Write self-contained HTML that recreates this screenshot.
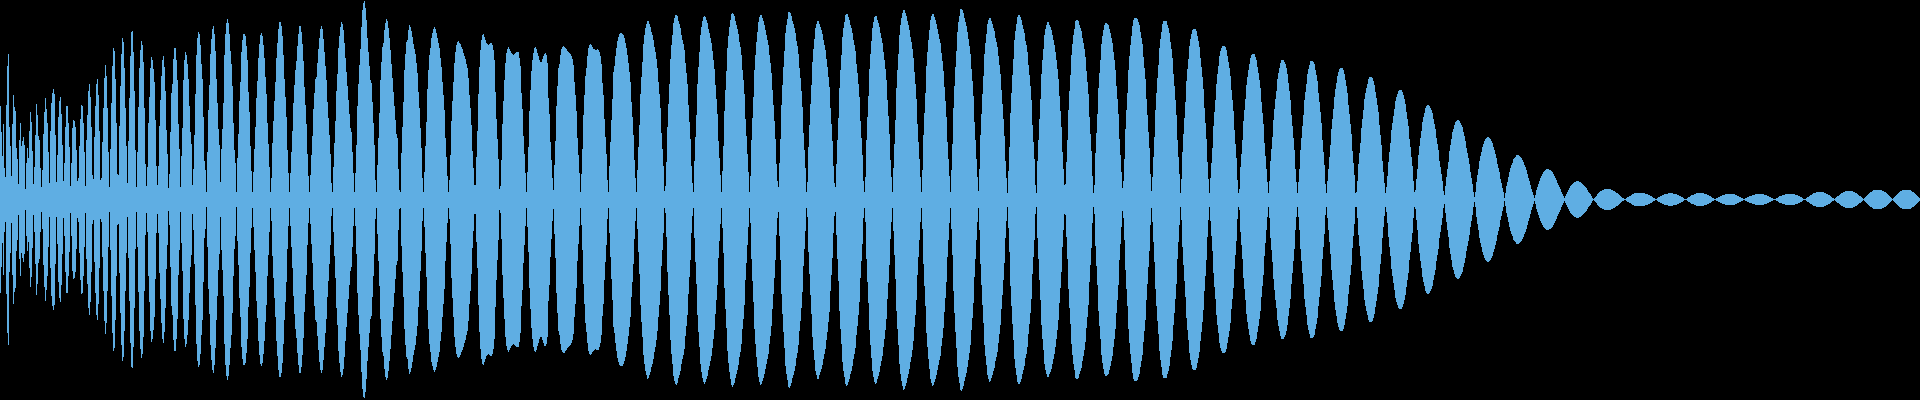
<!DOCTYPE html>
<html><head><meta charset="utf-8"><title>waveform</title>
<style>html,body{margin:0;padding:0;background:#000;width:1920px;height:400px;overflow:hidden;font-family:"Liberation Sans",sans-serif}svg{display:block}</style>
</head><body><svg width="1920" height="400" viewBox="0 0 1920 400" shape-rendering="crispEdges"><rect width="1920" height="400" fill="#000"/><path fill="#5FAEE3" d="M0 106h1v187h-1zM1 132h1v135h-1zM2 156h1v87h-1zM3 124h1v151h-1zM4 168h1v64h-1zM5 177h1v45h-1zM6 105h1v189h-1zM7 66h1v267h-1zM8 54h1v291h-1zM9 127h1v145h-1zM10 146h1v107h-1zM11 176h1v47h-1zM12 124h1v151h-1zM13 95h1v209h-1zM14 107h1v185h-1zM15 111h1v177h-1zM16 148h1v103h-1zM17 159h1v81h-1zM18 184h1v31h-1zM19 140h1v119h-1zM20 123h1v153h-1zM21 146h1v107h-1zM22 141h1v117h-1zM23 137h1v125h-1zM24 145h1v109h-1zM25 189h1v21h-1zM26 163h1v73h-1zM27 148h1v103h-1zM28 158h1v84h-1zM29 131h1v137h-1zM30 112h1v175h-1zM31 122h1v155h-1zM32 151h1v97h-1zM33 184h1v31h-1zM34 167h1v65h-1zM35 135h1v129h-1zM36 104h1v191h-1zM37 115h1v169h-1zM38 136h1v127h-1zM39 140h1v119h-1zM40 168h1v64h-1zM41 187h1v25h-1zM42 170h1v59h-1zM43 134h1v131h-1zM44 112h1v175h-1zM45 98h1v203h-1zM46 109h1v181h-1zM47 123h1v153h-1zM48 152h1v95h-1zM49 183h1v34h-1zM50 131h1v137h-1zM51 103h1v193h-1zM52 93h1v213h-1zM53 89h1v221h-1zM54 94h1v211h-1zM55 135h1v129h-1zM56 182h1v35h-1zM57 155h1v89h-1zM58 117h1v165h-1zM59 101h1v197h-1zM60 97h1v205h-1zM61 114h1v171h-1zM62 145h1v109h-1zM63 181h1v37h-1zM64 163h1v73h-1zM65 127h1v145h-1zM66 106h1v187h-1zM67 106h1v187h-1zM68 123h1v153h-1zM69 147h1v105h-1zM70 186h1v27h-1zM71 163h1v73h-1zM72 128h1v143h-1zM73 120h1v159h-1zM74 121h1v157h-1zM75 127h1v145h-1zM76 150h1v99h-1zM77 181h1v37h-1zM78 178h1v44h-1zM79 146h1v107h-1zM80 119h1v161h-1zM81 105h1v189h-1zM82 106h1v187h-1zM83 123h1v153h-1zM84 152h1v95h-1zM85 186h1v27h-1zM86 140h1v119h-1zM87 115h1v169h-1zM88 91h1v217h-1zM89 84h1v231h-1zM90 97h1v205h-1zM91 127h1v145h-1zM92 175h1v49h-1zM93 179h1v41h-1zM94 137h1v125h-1zM95 106h1v187h-1zM96 84h1v231h-1zM97 79h1v241h-1zM98 95h1v209h-1zM99 131h1v137h-1zM100 180h1v39h-1zM101 178h1v44h-1zM102 142h1v115h-1zM103 108h1v183h-1zM104 78h1v243h-1zM105 65h1v269h-1zM106 76h1v247h-1zM107 108h1v183h-1zM108 152h1v95h-1zM109 187h1v25h-1zM110 149h1v101h-1zM111 103h1v193h-1zM112 66h1v267h-1zM113 48h1v303h-1zM114 51h1v297h-1zM115 79h1v241h-1zM116 123h1v153h-1zM117 174h1v51h-1zM118 175h1v49h-1zM119 126h1v147h-1zM120 86h1v227h-1zM121 54h1v291h-1zM122 38h1v323h-1zM123 42h1v315h-1zM124 68h1v263h-1zM125 108h1v183h-1zM126 146h1v107h-1zM127 183h1v34h-1zM128 141h1v117h-1zM129 98h1v203h-1zM130 56h1v287h-1zM131 32h1v335h-1zM132 31h1v337h-1zM133 52h1v295h-1zM134 91h1v217h-1zM135 150h1v99h-1zM136 187h1v25h-1zM137 152h1v95h-1zM138 107h1v185h-1zM139 68h1v263h-1zM140 50h1v299h-1zM141 41h1v317h-1zM142 45h1v309h-1zM143 62h1v275h-1zM144 108h1v183h-1zM145 164h1v71h-1zM146 186h1v27h-1zM147 167h1v65h-1zM148 123h1v153h-1zM149 97h1v205h-1zM150 68h1v263h-1zM151 57h1v285h-1zM152 60h1v279h-1zM153 69h1v261h-1zM154 82h1v235h-1zM155 120h1v159h-1zM156 166h1v67h-1zM157 185h1v29h-1zM158 166h1v67h-1zM159 126h1v147h-1zM160 100h1v199h-1zM161 76h1v247h-1zM162 60h1v279h-1zM163 56h1v287h-1zM164 67h1v265h-1zM165 91h1v217h-1zM166 130h1v139h-1zM167 154h1v91h-1zM168 188h1v23h-1zM169 174h1v51h-1zM170 132h1v135h-1zM171 93h1v213h-1zM172 84h1v231h-1zM173 59h1v281h-1zM174 48h1v303h-1zM175 48h1v303h-1zM176 60h1v279h-1zM177 80h1v239h-1zM178 124h1v151h-1zM179 149h1v101h-1zM180 187h1v25h-1zM181 156h1v87h-1zM182 128h1v143h-1zM183 80h1v239h-1zM184 60h1v279h-1zM185 52h1v295h-1zM186 55h1v289h-1zM187 64h1v271h-1zM188 79h1v241h-1zM189 106h1v187h-1zM190 132h1v135h-1zM191 144h1v111h-1zM192 185h1v29h-1zM193 169h1v61h-1zM194 135h1v129h-1zM195 94h1v211h-1zM196 55h1v289h-1zM197 38h1v323h-1zM198 32h1v335h-1zM199 34h1v331h-1zM200 45h1v309h-1zM201 64h1v271h-1zM202 79h1v241h-1zM203 117h1v165h-1zM204 161h1v77h-1zM205 170h1v59h-1zM206 192h1v15h-1zM207 152h1v95h-1zM208 110h1v179h-1zM209 85h1v229h-1zM210 54h1v291h-1zM211 39h1v321h-1zM212 29h1v341h-1zM213 26h1v347h-1zM214 34h1v331h-1zM215 51h1v297h-1zM216 79h1v241h-1zM217 103h1v193h-1zM218 129h1v141h-1zM219 145h1v109h-1zM220 182h1v35h-1zM221 149h1v101h-1zM222 129h1v141h-1zM223 103h1v193h-1zM224 55h1v289h-1zM225 34h1v331h-1zM226 23h1v353h-1zM227 19h1v361h-1zM228 23h1v353h-1zM229 34h1v331h-1zM230 51h1v297h-1zM231 64h1v271h-1zM232 86h1v227h-1zM233 123h1v153h-1zM234 150h1v99h-1zM235 163h1v73h-1zM236 192h1v15h-1zM237 158h1v83h-1zM238 134h1v131h-1zM239 101h1v197h-1zM240 82h1v235h-1zM241 52h1v295h-1zM242 40h1v319h-1zM243 34h1v331h-1zM244 34h1v331h-1zM245 36h1v327h-1zM246 46h1v307h-1zM247 60h1v279h-1zM248 92h1v215h-1zM249 112h1v175h-1zM250 146h1v107h-1zM251 171h1v57h-1zM252 192h1v16h-1zM253 172h1v55h-1zM254 149h1v101h-1zM255 127h1v145h-1zM256 98h1v203h-1zM257 81h1v237h-1zM258 58h1v283h-1zM259 44h1v311h-1zM260 35h1v329h-1zM261 33h1v333h-1zM262 36h1v327h-1zM263 45h1v309h-1zM264 58h1v283h-1zM265 77h1v245h-1zM266 94h1v211h-1zM267 123h1v153h-1zM268 144h1v111h-1zM269 167h1v65h-1zM270 192h1v16h-1zM271 178h1v43h-1zM272 143h1v113h-1zM273 121h1v157h-1zM274 101h1v197h-1zM275 82h1v235h-1zM276 58h1v283h-1zM277 43h1v313h-1zM278 29h1v341h-1zM279 22h1v355h-1zM280 22h1v355h-1zM281 26h1v347h-1zM282 36h1v327h-1zM283 55h1v289h-1zM284 79h1v241h-1zM285 97h1v205h-1zM286 117h1v165h-1zM287 150h1v99h-1zM288 173h1v53h-1zM289 192h1v16h-1zM290 173h1v53h-1zM291 152h1v95h-1zM292 131h1v137h-1zM293 103h1v193h-1zM294 85h1v229h-1zM295 70h1v259h-1zM296 61h1v277h-1zM297 46h1v307h-1zM298 34h1v331h-1zM299 26h1v347h-1zM300 26h1v347h-1zM301 32h1v335h-1zM302 44h1v311h-1zM303 61h1v277h-1zM304 87h1v225h-1zM305 105h1v189h-1zM306 124h1v151h-1zM307 154h1v91h-1zM308 176h1v47h-1zM309 192h1v16h-1zM310 175h1v49h-1zM311 155h1v89h-1zM312 136h1v127h-1zM313 109h1v181h-1zM314 93h1v213h-1zM315 79h1v241h-1zM316 77h1v245h-1zM317 63h1v273h-1zM318 49h1v301h-1zM319 38h1v324h-1zM320 29h1v341h-1zM321 26h1v347h-1zM322 29h1v341h-1zM323 39h1v321h-1zM324 52h1v295h-1zM325 66h1v267h-1zM326 80h1v239h-1zM327 102h1v195h-1zM328 118h1v163h-1zM329 135h1v129h-1zM330 154h1v91h-1zM331 183h1v33h-1zM332 192h1v16h-1zM333 167h1v65h-1zM334 143h1v113h-1zM335 121h1v157h-1zM336 91h1v217h-1zM337 74h1v251h-1zM338 48h1v303h-1zM339 36h1v327h-1zM340 27h1v345h-1zM341 22h1v355h-1zM342 24h1v351h-1zM343 30h1v339h-1zM344 43h1v314h-1zM345 58h1v283h-1zM346 72h1v255h-1zM347 86h1v227h-1zM348 100h1v199h-1zM349 114h1v171h-1zM350 128h1v143h-1zM351 132h1v135h-1zM352 152h1v95h-1zM353 173h1v53h-1zM354 192h1v16h-1zM355 173h1v53h-1zM356 145h1v109h-1zM357 106h1v187h-1zM358 84h1v231h-1zM359 65h1v269h-1zM360 49h1v301h-1zM361 27h1v345h-1zM362 10h1v379h-1zM363 3h1v394h-1zM364 1h1v397h-1zM365 8h1v384h-1zM366 20h1v359h-1zM367 38h1v323h-1zM368 52h1v295h-1zM369 66h1v267h-1zM370 80h1v239h-1zM371 83h1v233h-1zM372 102h1v195h-1zM373 123h1v153h-1zM374 145h1v109h-1zM375 180h1v39h-1zM376 192h1v16h-1zM377 165h1v69h-1zM378 138h1v123h-1zM379 113h1v173h-1zM380 80h1v239h-1zM381 62h1v275h-1zM382 47h1v305h-1zM383 43h1v313h-1zM384 30h1v339h-1zM385 23h1v354h-1zM386 19h1v361h-1zM387 21h1v357h-1zM388 28h1v343h-1zM389 38h1v323h-1zM390 50h1v299h-1zM391 64h1v271h-1zM392 78h1v243h-1zM393 92h1v215h-1zM394 106h1v187h-1zM395 120h1v159h-1zM396 134h1v131h-1zM397 138h1v123h-1zM398 169h1v61h-1zM399 190h1v19h-1zM400 192h1v16h-1zM401 153h1v93h-1zM402 127h1v145h-1zM403 102h1v195h-1zM404 70h1v259h-1zM405 54h1v291h-1zM406 42h1v315h-1zM407 40h1v319h-1zM408 30h1v339h-1zM409 25h1v349h-1zM410 27h1v345h-1zM411 31h1v337h-1zM412 37h1v325h-1zM413 44h1v311h-1zM414 49h1v301h-1zM415 54h1v291h-1zM416 63h1v273h-1zM417 73h1v253h-1zM418 92h1v215h-1zM419 108h1v183h-1zM420 128h1v143h-1zM421 148h1v103h-1zM422 178h1v43h-1zM423 192h1v16h-1zM424 172h1v55h-1zM425 146h1v107h-1zM426 122h1v155h-1zM427 89h1v221h-1zM428 70h1v259h-1zM429 55h1v289h-1zM430 48h1v304h-1zM431 38h1v324h-1zM432 33h1v333h-1zM433 29h1v341h-1zM434 27h1v345h-1zM435 29h1v341h-1zM436 33h1v334h-1zM437 38h1v324h-1zM438 43h1v314h-1zM439 48h1v304h-1zM440 58h1v283h-1zM441 67h1v265h-1zM442 82h1v235h-1zM443 95h1v209h-1zM444 110h1v179h-1zM445 138h1v123h-1zM446 157h1v85h-1zM447 176h1v47h-1zM448 192h1v16h-1zM449 180h1v39h-1zM450 155h1v89h-1zM451 121h1v157h-1zM452 101h1v197h-1zM453 82h1v235h-1zM454 63h1v274h-1zM455 52h1v295h-1zM456 45h1v309h-1zM457 42h1v315h-1zM458 41h1v317h-1zM459 43h1v314h-1zM460 44h1v311h-1zM461 47h1v305h-1zM462 49h1v301h-1zM463 53h1v294h-1zM464 56h1v287h-1zM465 59h1v281h-1zM466 64h1v271h-1zM467 68h1v263h-1zM468 78h1v243h-1zM469 95h1v209h-1zM470 108h1v183h-1zM471 125h1v149h-1zM472 151h1v97h-1zM473 168h1v63h-1zM474 185h1v29h-1zM475 185h1v29h-1zM476 157h1v85h-1zM477 131h1v137h-1zM478 94h1v211h-1zM479 67h1v265h-1zM480 50h1v299h-1zM481 40h1v319h-1zM482 35h1v329h-1zM483 34h1v331h-1zM484 37h1v325h-1zM485 40h1v319h-1zM486 43h1v313h-1zM487 44h1v311h-1zM488 45h1v309h-1zM489 44h1v311h-1zM490 43h1v313h-1zM491 43h1v313h-1zM492 45h1v309h-1zM493 50h1v299h-1zM494 60h1v279h-1zM495 92h1v215h-1zM496 119h1v161h-1zM497 139h1v121h-1zM498 159h1v81h-1zM499 189h1v21h-1zM500 186h1v27h-1zM501 160h1v79h-1zM502 124h1v151h-1zM503 101h1v197h-1zM504 80h1v239h-1zM505 63h1v274h-1zM506 53h1v293h-1zM507 49h1v301h-1zM508 47h1v305h-1zM509 49h1v301h-1zM510 51h1v297h-1zM511 53h1v293h-1zM512 54h1v291h-1zM513 55h1v289h-1zM514 54h1v291h-1zM515 53h1v293h-1zM516 52h1v295h-1zM517 52h1v295h-1zM518 52h1v295h-1zM519 58h1v284h-1zM520 66h1v267h-1zM521 93h1v213h-1zM522 109h1v181h-1zM523 136h1v127h-1zM524 154h1v91h-1zM525 173h1v53h-1zM526 192h1v16h-1zM527 172h1v55h-1zM528 147h1v105h-1zM529 111h1v177h-1zM530 90h1v219h-1zM531 71h1v257h-1zM532 60h1v279h-1zM533 53h1v294h-1zM534 48h1v303h-1zM535 47h1v305h-1zM536 49h1v301h-1zM537 53h1v293h-1zM538 56h1v287h-1zM539 60h1v279h-1zM540 62h1v275h-1zM541 62h1v275h-1zM542 59h1v281h-1zM543 56h1v287h-1zM544 54h1v292h-1zM545 53h1v293h-1zM546 55h1v289h-1zM547 63h1v274h-1zM548 98h1v203h-1zM549 114h1v171h-1zM550 142h1v115h-1zM551 160h1v79h-1zM552 178h1v43h-1zM553 190h1v19h-1zM554 165h1v69h-1zM555 141h1v117h-1zM556 106h1v187h-1zM557 86h1v227h-1zM558 68h1v263h-1zM559 64h1v271h-1zM560 55h1v289h-1zM561 49h1v301h-1zM562 47h1v305h-1zM563 46h1v307h-1zM564 47h1v306h-1zM565 48h1v303h-1zM566 49h1v301h-1zM567 51h1v297h-1zM568 52h1v295h-1zM569 53h1v293h-1zM570 54h1v291h-1zM571 56h1v287h-1zM572 59h1v281h-1zM573 65h1v269h-1zM574 82h1v235h-1zM575 95h1v209h-1zM576 111h1v177h-1zM577 138h1v123h-1zM578 155h1v89h-1zM579 173h1v53h-1zM580 192h1v16h-1zM581 174h1v51h-1zM582 149h1v101h-1zM583 115h1v169h-1zM584 95h1v209h-1zM585 76h1v247h-1zM586 68h1v264h-1zM587 56h1v287h-1zM588 48h1v303h-1zM589 45h1v309h-1zM590 44h1v311h-1zM591 45h1v309h-1zM592 47h1v305h-1zM593 49h1v302h-1zM594 49h1v301h-1zM595 50h1v299h-1zM596 50h1v300h-1zM597 49h1v301h-1zM598 50h1v300h-1zM599 52h1v295h-1zM600 56h1v287h-1zM601 64h1v271h-1zM602 83h1v233h-1zM603 95h1v209h-1zM604 119h1v161h-1zM605 137h1v125h-1zM606 154h1v91h-1zM607 180h1v39h-1zM608 192h1v16h-1zM609 166h1v67h-1zM610 142h1v115h-1zM611 120h1v159h-1zM612 99h1v201h-1zM613 72h1v255h-1zM614 66h1v267h-1zM615 56h1v287h-1zM616 48h1v303h-1zM617 41h1v317h-1zM618 37h1v325h-1zM619 34h1v331h-1zM620 33h1v333h-1zM621 33h1v333h-1zM622 34h1v332h-1zM623 35h1v329h-1zM624 38h1v323h-1zM625 43h1v314h-1zM626 48h1v303h-1zM627 55h1v289h-1zM628 63h1v273h-1zM629 72h1v255h-1zM630 82h1v235h-1zM631 102h1v195h-1zM632 117h1v165h-1zM633 135h1v129h-1zM634 160h1v79h-1zM635 178h1v43h-1zM636 192h1v16h-1zM637 170h1v59h-1zM638 147h1v105h-1zM639 125h1v149h-1zM640 94h1v211h-1zM641 77h1v245h-1zM642 62h1v275h-1zM643 44h1v311h-1zM644 35h1v329h-1zM645 28h1v343h-1zM646 24h1v351h-1zM647 21h1v358h-1zM648 21h1v357h-1zM649 24h1v351h-1zM650 27h1v345h-1zM651 32h1v335h-1zM652 35h1v329h-1zM653 40h1v319h-1zM654 47h1v305h-1zM655 52h1v295h-1zM656 59h1v281h-1zM657 68h1v263h-1zM658 82h1v235h-1zM659 94h1v211h-1zM660 108h1v183h-1zM661 133h1v133h-1zM662 149h1v101h-1zM663 166h1v67h-1zM664 191h1v17h-1zM665 186h1v27h-1zM666 162h1v75h-1zM667 127h1v145h-1zM668 104h1v191h-1zM669 84h1v231h-1zM670 59h1v281h-1zM671 45h1v309h-1zM672 35h1v329h-1zM673 23h1v353h-1zM674 18h1v363h-1zM675 15h1v369h-1zM676 15h1v370h-1zM677 16h1v367h-1zM678 21h1v357h-1zM679 24h1v351h-1zM680 28h1v343h-1zM681 35h1v329h-1zM682 40h1v319h-1zM683 44h1v311h-1zM684 50h1v299h-1zM685 63h1v273h-1zM686 73h1v253h-1zM687 84h1v231h-1zM688 105h1v189h-1zM689 122h1v155h-1zM690 139h1v121h-1zM691 166h1v67h-1zM692 183h1v33h-1zM693 192h1v16h-1zM694 161h1v77h-1zM695 137h1v125h-1zM696 115h1v169h-1zM697 84h1v231h-1zM698 67h1v265h-1zM699 52h1v295h-1zM700 35h1v329h-1zM701 27h1v345h-1zM702 21h1v357h-1zM703 17h1v365h-1zM704 16h1v368h-1zM705 17h1v365h-1zM706 20h1v359h-1zM707 23h1v353h-1zM708 29h1v341h-1zM709 33h1v333h-1zM710 38h1v323h-1zM711 43h1v313h-1zM712 51h1v297h-1zM713 60h1v279h-1zM714 69h1v261h-1zM715 85h1v229h-1zM716 99h1v201h-1zM717 114h1v171h-1zM718 141h1v117h-1zM719 158h1v83h-1zM720 175h1v49h-1zM721 192h1v16h-1zM722 171h1v57h-1zM723 146h1v107h-1zM724 111h1v177h-1zM725 90h1v219h-1zM726 71h1v257h-1zM727 48h1v303h-1zM728 36h1v327h-1zM729 27h1v345h-1zM730 20h1v359h-1zM731 14h1v371h-1zM732 13h1v374h-1zM733 14h1v371h-1zM734 16h1v367h-1zM735 21h1v357h-1zM736 25h1v349h-1zM737 29h1v341h-1zM738 34h1v331h-1zM739 42h1v315h-1zM740 47h1v305h-1zM741 55h1v289h-1zM742 70h1v259h-1zM743 80h1v239h-1zM744 94h1v211h-1zM745 119h1v161h-1zM746 136h1v127h-1zM747 154h1v91h-1zM748 172h1v55h-1zM749 192h1v16h-1zM750 176h1v47h-1zM751 140h1v119h-1zM752 118h1v163h-1zM753 97h1v205h-1zM754 70h1v259h-1zM755 55h1v289h-1zM756 42h1v315h-1zM757 32h1v335h-1zM758 22h1v355h-1zM759 17h1v365h-1zM760 15h1v370h-1zM761 15h1v369h-1zM762 18h1v363h-1zM763 21h1v357h-1zM764 25h1v349h-1zM765 30h1v339h-1zM766 35h1v329h-1zM767 40h1v319h-1zM768 45h1v309h-1zM769 55h1v289h-1zM770 63h1v273h-1zM771 73h1v253h-1zM772 90h1v219h-1zM773 105h1v189h-1zM774 121h1v157h-1zM775 139h1v121h-1zM776 164h1v71h-1zM777 181h1v37h-1zM778 187h1v25h-1zM779 163h1v73h-1zM780 139h1v121h-1zM781 105h1v189h-1zM782 85h1v229h-1zM783 67h1v265h-1zM784 51h1v297h-1zM785 33h1v333h-1zM786 25h1v349h-1zM787 19h1v361h-1zM788 12h1v375h-1zM789 12h1v376h-1zM790 13h1v373h-1zM791 16h1v367h-1zM792 21h1v357h-1zM793 24h1v351h-1zM794 28h1v343h-1zM795 33h1v333h-1zM796 41h1v317h-1zM797 46h1v307h-1zM798 54h1v291h-1zM799 68h1v263h-1zM800 78h1v243h-1zM801 91h1v217h-1zM802 107h1v185h-1zM803 133h1v133h-1zM804 150h1v99h-1zM805 168h1v63h-1zM806 192h1v16h-1zM807 182h1v35h-1zM808 147h1v105h-1zM809 125h1v149h-1zM810 104h1v191h-1zM811 85h1v229h-1zM812 62h1v275h-1zM813 49h1v301h-1zM814 39h1v321h-1zM815 28h1v343h-1zM816 24h1v351h-1zM817 21h1v358h-1zM818 21h1v358h-1zM819 24h1v351h-1zM820 27h1v345h-1zM821 30h1v339h-1zM822 34h1v331h-1zM823 40h1v319h-1zM824 45h1v309h-1zM825 50h1v299h-1zM826 59h1v281h-1zM827 67h1v265h-1zM828 77h1v245h-1zM829 87h1v225h-1zM830 108h1v183h-1zM831 124h1v151h-1zM832 141h1v117h-1zM833 166h1v67h-1zM834 183h1v33h-1zM835 187h1v25h-1zM836 164h1v71h-1zM837 140h1v119h-1zM838 118h1v163h-1zM839 88h1v223h-1zM840 70h1v259h-1zM841 55h1v289h-1zM842 37h1v325h-1zM843 28h1v343h-1zM844 22h1v355h-1zM845 15h1v369h-1zM846 14h1v372h-1zM847 14h1v371h-1zM848 17h1v365h-1zM849 20h1v359h-1zM850 25h1v349h-1zM851 28h1v343h-1zM852 33h1v333h-1zM853 40h1v319h-1zM854 45h1v309h-1zM855 51h1v297h-1zM856 64h1v271h-1zM857 73h1v253h-1zM858 84h1v231h-1zM859 97h1v205h-1zM860 121h1v157h-1zM861 138h1v123h-1zM862 155h1v89h-1zM863 181h1v37h-1zM864 192h1v16h-1zM865 177h1v45h-1zM866 140h1v119h-1zM867 117h1v165h-1zM868 96h1v207h-1zM869 69h1v261h-1zM870 54h1v291h-1zM871 41h1v317h-1zM872 28h1v343h-1zM873 22h1v355h-1zM874 17h1v365h-1zM875 16h1v368h-1zM876 16h1v367h-1zM877 20h1v359h-1zM878 23h1v353h-1zM879 27h1v345h-1zM880 33h1v333h-1zM881 38h1v323h-1zM882 43h1v313h-1zM883 52h1v295h-1zM884 60h1v279h-1zM885 69h1v261h-1zM886 80h1v239h-1zM887 100h1v199h-1zM888 116h1v167h-1zM889 134h1v131h-1zM890 160h1v79h-1zM891 177h1v45h-1zM892 192h1v16h-1zM893 168h1v63h-1zM894 144h1v111h-1zM895 120h1v159h-1zM896 88h1v223h-1zM897 70h1v259h-1zM898 54h1v291h-1zM899 35h1v329h-1zM900 25h1v349h-1zM901 18h1v363h-1zM902 13h1v373h-1zM903 10h1v380h-1zM904 10h1v379h-1zM905 13h1v373h-1zM906 16h1v367h-1zM907 21h1v357h-1zM908 25h1v349h-1zM909 30h1v339h-1zM910 37h1v325h-1zM911 42h1v315h-1zM912 49h1v301h-1zM913 58h1v283h-1zM914 72h1v255h-1zM915 84h1v231h-1zM916 99h1v201h-1zM917 124h1v151h-1zM918 142h1v115h-1zM919 159h1v81h-1zM920 177h1v45h-1zM921 192h1v16h-1zM922 170h1v59h-1zM923 135h1v129h-1zM924 113h1v173h-1zM925 93h1v213h-1zM926 66h1v267h-1zM927 52h1v295h-1zM928 40h1v319h-1zM929 30h1v339h-1zM930 20h1v359h-1zM931 16h1v367h-1zM932 14h1v372h-1zM933 14h1v371h-1zM934 17h1v365h-1zM935 20h1v359h-1zM936 24h1v351h-1zM937 29h1v341h-1zM938 34h1v331h-1zM939 39h1v321h-1zM940 43h1v313h-1zM941 53h1v293h-1zM942 61h1v277h-1zM943 71h1v257h-1zM944 87h1v225h-1zM945 101h1v197h-1zM946 117h1v165h-1zM947 142h1v115h-1zM948 159h1v81h-1zM949 176h1v47h-1zM950 192h1v16h-1zM951 170h1v59h-1zM952 144h1v111h-1zM953 108h1v183h-1zM954 86h1v227h-1zM955 67h1v265h-1zM956 51h1v297h-1zM957 32h1v335h-1zM958 22h1v355h-1zM959 16h1v367h-1zM960 9h1v381h-1zM961 9h1v382h-1zM962 10h1v379h-1zM963 13h1v373h-1zM964 18h1v363h-1zM965 22h1v355h-1zM966 26h1v347h-1zM967 32h1v335h-1zM968 39h1v321h-1zM969 46h1v307h-1zM970 54h1v291h-1zM971 69h1v261h-1zM972 81h1v237h-1zM973 96h1v207h-1zM974 122h1v155h-1zM975 140h1v119h-1zM976 159h1v81h-1zM977 177h1v45h-1zM978 191h1v17h-1zM979 169h1v61h-1zM980 135h1v129h-1zM981 114h1v171h-1zM982 94h1v211h-1zM983 76h1v247h-1zM984 54h1v291h-1zM985 43h1v313h-1zM986 34h1v331h-1zM987 24h1v351h-1zM988 20h1v359h-1zM989 18h1v364h-1zM990 18h1v363h-1zM991 21h1v357h-1zM992 24h1v351h-1zM993 28h1v343h-1zM994 31h1v337h-1zM995 38h1v323h-1zM996 42h1v315h-1zM997 47h1v305h-1zM998 56h1v287h-1zM999 65h1v269h-1zM1000 74h1v251h-1zM1001 90h1v219h-1zM1002 104h1v191h-1zM1003 119h1v161h-1zM1004 136h1v127h-1zM1005 161h1v77h-1zM1006 178h1v43h-1zM1007 193h1v14h-1zM1008 171h1v57h-1zM1009 147h1v105h-1zM1010 113h1v173h-1zM1011 93h1v213h-1zM1012 75h1v249h-1zM1013 59h1v281h-1zM1014 40h1v319h-1zM1015 31h1v337h-1zM1016 24h1v351h-1zM1017 17h1v365h-1zM1018 15h1v369h-1zM1019 15h1v369h-1zM1020 17h1v365h-1zM1021 20h1v359h-1zM1022 25h1v349h-1zM1023 29h1v341h-1zM1024 33h1v333h-1zM1025 41h1v317h-1zM1026 45h1v309h-1zM1027 52h1v295h-1zM1028 65h1v269h-1zM1029 75h1v249h-1zM1030 86h1v227h-1zM1031 100h1v199h-1zM1032 125h1v149h-1zM1033 142h1v115h-1zM1034 159h1v81h-1zM1035 185h1v29h-1zM1036 193h1v14h-1zM1037 161h1v77h-1zM1038 140h1v119h-1zM1039 119h1v161h-1zM1040 99h1v201h-1zM1041 74h1v251h-1zM1042 60h1v279h-1zM1043 49h1v301h-1zM1044 35h1v329h-1zM1045 29h1v341h-1zM1046 25h1v349h-1zM1047 22h1v355h-1zM1048 22h1v355h-1zM1049 25h1v349h-1zM1050 27h1v345h-1zM1051 30h1v339h-1zM1052 35h1v329h-1zM1053 40h1v319h-1zM1054 45h1v309h-1zM1055 52h1v295h-1zM1056 60h1v279h-1zM1057 69h1v261h-1zM1058 79h1v241h-1zM1059 96h1v207h-1zM1060 111h1v177h-1zM1061 127h1v145h-1zM1062 152h1v95h-1zM1063 169h1v61h-1zM1064 185h1v29h-1zM1065 184h1v31h-1zM1066 162h1v75h-1zM1067 140h1v119h-1zM1068 110h1v179h-1zM1069 91h1v217h-1zM1070 75h1v249h-1zM1071 55h1v289h-1zM1072 44h1v311h-1zM1073 35h1v329h-1zM1074 29h1v341h-1zM1075 21h1v357h-1zM1076 20h1v359h-1zM1077 20h1v359h-1zM1078 21h1v357h-1zM1079 25h1v349h-1zM1080 28h1v343h-1zM1081 31h1v337h-1zM1082 38h1v323h-1zM1083 43h1v313h-1zM1084 49h1v301h-1zM1085 57h1v285h-1zM1086 71h1v257h-1zM1087 82h1v235h-1zM1088 94h1v211h-1zM1089 117h1v165h-1zM1090 134h1v131h-1zM1091 151h1v97h-1zM1092 176h1v47h-1zM1093 193h1v14h-1zM1094 185h1v29h-1zM1095 153h1v93h-1zM1096 133h1v133h-1zM1097 114h1v171h-1zM1098 88h1v223h-1zM1099 73h1v253h-1zM1100 60h1v279h-1zM1101 44h1v311h-1zM1102 36h1v327h-1zM1103 30h1v339h-1zM1104 25h1v349h-1zM1105 23h1v353h-1zM1106 23h1v353h-1zM1107 24h1v351h-1zM1108 25h1v349h-1zM1109 29h1v341h-1zM1110 33h1v333h-1zM1111 38h1v323h-1zM1112 43h1v313h-1zM1113 52h1v295h-1zM1114 60h1v279h-1zM1115 70h1v259h-1zM1116 86h1v227h-1zM1117 99h1v201h-1zM1118 114h1v171h-1zM1119 139h1v121h-1zM1120 155h1v89h-1zM1121 172h1v55h-1zM1122 188h1v23h-1zM1123 181h1v37h-1zM1124 159h1v81h-1zM1125 129h1v141h-1zM1126 110h1v179h-1zM1127 93h1v213h-1zM1128 70h1v259h-1zM1129 56h1v287h-1zM1130 45h1v309h-1zM1131 36h1v327h-1zM1132 26h1v347h-1zM1133 20h1v359h-1zM1134 18h1v363h-1zM1135 18h1v363h-1zM1136 18h1v363h-1zM1137 19h1v361h-1zM1138 22h1v355h-1zM1139 25h1v349h-1zM1140 32h1v335h-1zM1141 38h1v323h-1zM1142 44h1v311h-1zM1143 57h1v285h-1zM1144 68h1v263h-1zM1145 79h1v241h-1zM1146 99h1v201h-1zM1147 115h1v169h-1zM1148 132h1v135h-1zM1149 148h1v103h-1zM1150 174h1v51h-1zM1151 191h1v17h-1zM1152 177h1v45h-1zM1153 157h1v85h-1zM1154 137h1v125h-1zM1155 110h1v179h-1zM1156 93h1v213h-1zM1157 78h1v243h-1zM1158 65h1v269h-1zM1159 48h1v303h-1zM1160 39h1v321h-1zM1161 32h1v335h-1zM1162 24h1v351h-1zM1163 21h1v357h-1zM1164 21h1v357h-1zM1165 21h1v357h-1zM1166 21h1v357h-1zM1167 25h1v349h-1zM1168 28h1v343h-1zM1169 33h1v333h-1zM1170 42h1v315h-1zM1171 49h1v301h-1zM1172 58h1v283h-1zM1173 74h1v251h-1zM1174 86h1v227h-1zM1175 100h1v199h-1zM1176 115h1v169h-1zM1177 140h1v119h-1zM1178 157h1v85h-1zM1179 174h1v51h-1zM1180 193h1v14h-1zM1181 179h1v41h-1zM1182 152h1v95h-1zM1183 134h1v131h-1zM1184 118h1v163h-1zM1185 102h1v195h-1zM1186 81h1v237h-1zM1187 69h1v261h-1zM1188 59h1v281h-1zM1189 46h1v307h-1zM1190 39h1v321h-1zM1191 34h1v331h-1zM1192 30h1v339h-1zM1193 29h1v341h-1zM1194 29h1v341h-1zM1195 29h1v341h-1zM1196 31h1v337h-1zM1197 36h1v327h-1zM1198 41h1v317h-1zM1199 47h1v305h-1zM1200 58h1v283h-1zM1201 67h1v265h-1zM1202 77h1v245h-1zM1203 89h1v221h-1zM1204 108h1v183h-1zM1205 123h1v153h-1zM1206 139h1v121h-1zM1207 162h1v75h-1zM1208 179h1v41h-1zM1209 193h1v14h-1zM1210 178h1v43h-1zM1211 163h1v73h-1zM1212 148h1v103h-1zM1213 126h1v147h-1zM1214 112h1v175h-1zM1215 100h1v199h-1zM1216 84h1v231h-1zM1217 74h1v251h-1zM1218 66h1v267h-1zM1219 56h1v287h-1zM1220 51h1v297h-1zM1221 48h1v303h-1zM1222 46h1v307h-1zM1223 46h1v307h-1zM1224 46h1v307h-1zM1225 47h1v305h-1zM1226 50h1v299h-1zM1227 56h1v287h-1zM1228 62h1v275h-1zM1229 68h1v263h-1zM1230 76h1v247h-1zM1231 90h1v219h-1zM1232 100h1v199h-1zM1233 111h1v177h-1zM1234 130h1v139h-1zM1235 144h1v111h-1zM1236 158h1v83h-1zM1237 180h1v39h-1zM1238 193h1v14h-1zM1239 189h1v21h-1zM1240 167h1v65h-1zM1241 154h1v91h-1zM1242 140h1v119h-1zM1243 121h1v157h-1zM1244 110h1v179h-1zM1245 99h1v201h-1zM1246 85h1v229h-1zM1247 77h1v245h-1zM1248 70h1v259h-1zM1249 64h1v271h-1zM1250 58h1v283h-1zM1251 55h1v289h-1zM1252 54h1v291h-1zM1253 54h1v291h-1zM1254 54h1v291h-1zM1255 57h1v285h-1zM1256 60h1v279h-1zM1257 67h1v265h-1zM1258 73h1v253h-1zM1259 80h1v239h-1zM1260 88h1v223h-1zM1261 102h1v195h-1zM1262 113h1v173h-1zM1263 124h1v151h-1zM1264 143h1v113h-1zM1265 156h1v87h-1zM1266 169h1v61h-1zM1267 182h1v35h-1zM1268 193h1v14h-1zM1269 181h1v37h-1zM1270 161h1v77h-1zM1271 149h1v101h-1zM1272 137h1v125h-1zM1273 120h1v159h-1zM1274 109h1v181h-1zM1275 99h1v201h-1zM1276 91h1v217h-1zM1277 79h1v241h-1zM1278 73h1v253h-1zM1279 68h1v263h-1zM1280 63h1v273h-1zM1281 60h1v279h-1zM1282 60h1v279h-1zM1283 60h1v279h-1zM1284 62h1v275h-1zM1285 64h1v271h-1zM1286 68h1v263h-1zM1287 74h1v251h-1zM1288 83h1v233h-1zM1289 91h1v217h-1zM1290 100h1v199h-1zM1291 115h1v169h-1zM1292 126h1v147h-1zM1293 138h1v123h-1zM1294 150h1v99h-1zM1295 169h1v61h-1zM1296 182h1v35h-1zM1297 193h1v14h-1zM1298 182h1v35h-1zM1299 169h1v61h-1zM1300 150h1v99h-1zM1301 138h1v123h-1zM1302 126h1v147h-1zM1303 115h1v169h-1zM1304 100h1v199h-1zM1305 92h1v215h-1zM1306 84h1v231h-1zM1307 74h1v251h-1zM1308 69h1v261h-1zM1309 65h1v269h-1zM1310 61h1v277h-1zM1311 61h1v277h-1zM1312 61h1v277h-1zM1313 62h1v275h-1zM1314 64h1v271h-1zM1315 70h1v259h-1zM1316 75h1v249h-1zM1317 81h1v237h-1zM1318 93h1v213h-1zM1319 102h1v195h-1zM1320 112h1v175h-1zM1321 123h1v153h-1zM1322 140h1v119h-1zM1323 152h1v95h-1zM1324 165h1v69h-1zM1325 184h1v31h-1zM1326 193h1v14h-1zM1327 181h1v37h-1zM1328 169h1v61h-1zM1329 157h1v85h-1zM1330 145h1v109h-1zM1331 129h1v141h-1zM1332 119h1v161h-1zM1333 109h1v181h-1zM1334 97h1v205h-1zM1335 89h1v221h-1zM1336 83h1v233h-1zM1337 76h1v247h-1zM1338 72h1v255h-1zM1339 69h1v261h-1zM1340 68h1v263h-1zM1341 68h1v263h-1zM1342 68h1v263h-1zM1343 70h1v259h-1zM1344 74h1v251h-1zM1345 80h1v239h-1zM1346 86h1v227h-1zM1347 93h1v213h-1zM1348 105h1v189h-1zM1349 114h1v171h-1zM1350 124h1v151h-1zM1351 134h1v131h-1zM1352 151h1v97h-1zM1353 163h1v73h-1zM1354 175h1v49h-1zM1355 193h1v14h-1zM1356 192h1v15h-1zM1357 181h1v37h-1zM1358 164h1v71h-1zM1359 153h1v93h-1zM1360 143h1v113h-1zM1361 128h1v143h-1zM1362 119h1v161h-1zM1363 110h1v179h-1zM1364 99h1v201h-1zM1365 93h1v213h-1zM1366 88h1v223h-1zM1367 84h1v231h-1zM1368 79h1v241h-1zM1369 77h1v245h-1zM1370 77h1v245h-1zM1371 77h1v245h-1zM1372 78h1v243h-1zM1373 81h1v237h-1zM1374 85h1v229h-1zM1375 92h1v215h-1zM1376 98h1v203h-1zM1377 105h1v189h-1zM1378 112h1v175h-1zM1379 125h1v149h-1zM1380 135h1v129h-1zM1381 145h1v109h-1zM1382 161h1v77h-1zM1383 172h1v55h-1zM1384 183h1v33h-1zM1385 193h1v14h-1zM1386 187h1v25h-1zM1387 176h1v47h-1zM1388 162h1v75h-1zM1389 152h1v95h-1zM1390 143h1v113h-1zM1391 130h1v139h-1zM1392 123h1v153h-1zM1393 116h1v167h-1zM1394 109h1v181h-1zM1395 101h1v197h-1zM1396 97h1v205h-1zM1397 94h1v211h-1zM1398 91h1v217h-1zM1399 90h1v219h-1zM1400 90h1v219h-1zM1401 90h1v219h-1zM1402 92h1v215h-1zM1403 95h1v209h-1zM1404 99h1v201h-1zM1405 104h1v191h-1zM1406 112h1v175h-1zM1407 119h1v161h-1zM1408 126h1v147h-1zM1409 139h1v121h-1zM1410 147h1v105h-1zM1411 157h1v85h-1zM1412 166h1v67h-1zM1413 181h1v37h-1zM1414 192h1v15h-1zM1415 190h1v19h-1zM1416 179h1v41h-1zM1417 169h1v61h-1zM1418 155h1v89h-1zM1419 146h1v107h-1zM1420 138h1v123h-1zM1421 131h1v137h-1zM1422 122h1v155h-1zM1423 117h1v165h-1zM1424 113h1v173h-1zM1425 108h1v183h-1zM1426 106h1v187h-1zM1427 105h1v189h-1zM1428 105h1v189h-1zM1429 106h1v187h-1zM1430 108h1v183h-1zM1431 110h1v179h-1zM1432 113h1v173h-1zM1433 119h1v161h-1zM1434 124h1v151h-1zM1435 129h1v141h-1zM1436 138h1v123h-1zM1437 144h1v111h-1zM1438 150h1v99h-1zM1439 161h1v77h-1zM1440 167h1v65h-1zM1441 174h1v51h-1zM1442 181h1v37h-1zM1443 191h1v17h-1zM1444 195h1v9h-1zM1445 186h1v27h-1zM1446 177h1v45h-1zM1447 169h1v61h-1zM1448 162h1v75h-1zM1449 151h1v97h-1zM1450 145h1v109h-1zM1451 139h1v121h-1zM1452 132h1v135h-1zM1453 129h1v141h-1zM1454 125h1v149h-1zM1455 122h1v155h-1zM1456 121h1v157h-1zM1457 120h1v159h-1zM1458 120h1v159h-1zM1459 121h1v157h-1zM1460 123h1v153h-1zM1461 125h1v149h-1zM1462 127h1v145h-1zM1463 132h1v135h-1zM1464 136h1v127h-1zM1465 141h1v117h-1zM1466 148h1v103h-1zM1467 153h1v93h-1zM1468 158h1v83h-1zM1469 164h1v71h-1zM1470 172h1v55h-1zM1471 178h1v43h-1zM1472 184h1v31h-1zM1473 192h1v15h-1zM1474 197h1v5h-1zM1475 192h1v15h-1zM1476 182h1v35h-1zM1477 175h1v49h-1zM1478 169h1v61h-1zM1479 161h1v77h-1zM1480 156h1v87h-1zM1481 152h1v95h-1zM1482 147h1v105h-1zM1483 144h1v111h-1zM1484 141h1v117h-1zM1485 139h1v121h-1zM1486 138h1v123h-1zM1487 137h1v125h-1zM1488 137h1v125h-1zM1489 138h1v123h-1zM1490 139h1v121h-1zM1491 141h1v117h-1zM1492 143h1v113h-1zM1493 147h1v105h-1zM1494 150h1v99h-1zM1495 154h1v91h-1zM1496 158h1v83h-1zM1497 164h1v71h-1zM1498 168h1v63h-1zM1499 172h1v55h-1zM1500 179h1v41h-1zM1501 183h1v33h-1zM1502 188h1v23h-1zM1503 192h1v15h-1zM1504 198h1v3h-1zM1505 193h1v13h-1zM1506 186h1v27h-1zM1507 182h1v35h-1zM1508 177h1v45h-1zM1509 172h1v55h-1zM1510 168h1v63h-1zM1511 165h1v69h-1zM1512 163h1v73h-1zM1513 159h1v81h-1zM1514 158h1v83h-1zM1515 157h1v85h-1zM1516 155h1v89h-1zM1517 155h1v89h-1zM1518 155h1v89h-1zM1519 156h1v87h-1zM1520 157h1v85h-1zM1521 158h1v83h-1zM1522 160h1v79h-1zM1523 162h1v75h-1zM1524 165h1v69h-1zM1525 167h1v65h-1zM1526 170h1v59h-1zM1527 174h1v51h-1zM1528 178h1v43h-1zM1529 181h1v37h-1zM1530 185h1v29h-1zM1531 189h1v21h-1zM1532 192h1v15h-1zM1533 195h1v9h-1zM1534 198h1v3h-1zM1535 195h1v9h-1zM1536 190h1v19h-1zM1537 187h1v25h-1zM1538 184h1v31h-1zM1539 181h1v37h-1zM1540 178h1v43h-1zM1541 176h1v47h-1zM1542 174h1v51h-1zM1543 172h1v55h-1zM1544 171h1v57h-1zM1545 170h1v59h-1zM1546 169h1v61h-1zM1547 169h1v61h-1zM1548 169h1v61h-1zM1549 170h1v59h-1zM1550 170h1v59h-1zM1551 171h1v57h-1zM1552 172h1v55h-1zM1553 174h1v51h-1zM1554 176h1v47h-1zM1555 178h1v43h-1zM1556 180h1v39h-1zM1557 183h1v33h-1zM1558 185h1v29h-1zM1559 187h1v25h-1zM1560 189h1v21h-1zM1561 192h1v15h-1zM1562 194h1v11h-1zM1563 196h1v7h-1zM1564 198h1v3h-1zM1565 196h1v7h-1zM1566 194h1v11h-1zM1567 192h1v15h-1zM1568 190h1v19h-1zM1569 188h1v23h-1zM1570 186h1v27h-1zM1571 185h1v29h-1zM1572 184h1v31h-1zM1573 183h1v33h-1zM1574 182h1v35h-1zM1575 182h1v35h-1zM1576 181h1v37h-1zM1577 181h1v37h-1zM1578 181h1v37h-1zM1579 182h1v35h-1zM1580 182h1v35h-1zM1581 183h1v33h-1zM1582 184h1v31h-1zM1583 185h1v29h-1zM1584 186h1v27h-1zM1585 187h1v25h-1zM1586 188h1v23h-1zM1587 190h1v19h-1zM1588 192h1v15h-1zM1589 193h1v13h-1zM1590 194h1v11h-1zM1591 196h1v7h-1zM1592 198h1v3h-1zM1593 199h1v1h-1zM1594 198h1v3h-1zM1595 197h1v5h-1zM1596 196h1v7h-1zM1597 194h1v11h-1zM1598 193h1v13h-1zM1599 192h1v15h-1zM1600 191h1v17h-1zM1601 191h1v17h-1zM1602 190h1v19h-1zM1603 190h1v19h-1zM1604 189h1v21h-1zM1605 189h1v21h-1zM1606 189h1v21h-1zM1607 189h1v21h-1zM1608 189h1v21h-1zM1609 189h1v21h-1zM1610 189h1v21h-1zM1611 190h1v19h-1zM1612 190h1v19h-1zM1613 191h1v17h-1zM1614 191h1v17h-1zM1615 192h1v15h-1zM1616 193h1v13h-1zM1617 193h1v13h-1zM1618 194h1v11h-1zM1619 195h1v9h-1zM1620 196h1v7h-1zM1621 197h1v5h-1zM1622 198h1v3h-1zM1623 198h1v3h-1zM1624 199h1v1h-1zM1625 199h1v1h-1zM1626 198h1v3h-1zM1627 197h1v5h-1zM1628 197h1v5h-1zM1629 196h1v7h-1zM1630 196h1v7h-1zM1631 195h1v9h-1zM1632 194h1v11h-1zM1633 194h1v11h-1zM1634 193h1v13h-1zM1635 193h1v13h-1zM1636 193h1v13h-1zM1637 193h1v13h-1zM1638 193h1v13h-1zM1639 193h1v13h-1zM1640 193h1v13h-1zM1641 193h1v13h-1zM1642 193h1v13h-1zM1643 193h1v13h-1zM1644 193h1v13h-1zM1645 194h1v11h-1zM1646 194h1v11h-1zM1647 194h1v11h-1zM1648 195h1v9h-1zM1649 195h1v9h-1zM1650 196h1v7h-1zM1651 196h1v7h-1zM1652 197h1v5h-1zM1653 198h1v3h-1zM1654 198h1v3h-1zM1655 199h1v1h-1zM1656 199h1v1h-1zM1657 198h1v3h-1zM1658 197h1v5h-1zM1659 197h1v5h-1zM1660 196h1v7h-1zM1661 196h1v7h-1zM1662 195h1v9h-1zM1663 195h1v9h-1zM1664 194h1v11h-1zM1665 194h1v11h-1zM1666 194h1v11h-1zM1667 194h1v11h-1zM1668 193h1v13h-1zM1669 193h1v13h-1zM1670 193h1v13h-1zM1671 193h1v13h-1zM1672 193h1v13h-1zM1673 194h1v11h-1zM1674 194h1v11h-1zM1675 194h1v11h-1zM1676 194h1v11h-1zM1677 195h1v9h-1zM1678 195h1v9h-1zM1679 196h1v7h-1zM1680 196h1v7h-1zM1681 197h1v5h-1zM1682 197h1v5h-1zM1683 198h1v3h-1zM1684 199h1v1h-1zM1685 199h1v1h-1zM1686 199h1v1h-1zM1687 198h1v3h-1zM1688 197h1v5h-1zM1689 197h1v5h-1zM1690 196h1v7h-1zM1691 195h1v9h-1zM1692 195h1v9h-1zM1693 195h1v9h-1zM1694 194h1v11h-1zM1695 194h1v11h-1zM1696 193h1v13h-1zM1697 193h1v13h-1zM1698 193h1v13h-1zM1699 193h1v13h-1zM1700 193h1v13h-1zM1701 193h1v13h-1zM1702 193h1v13h-1zM1703 193h1v13h-1zM1704 194h1v11h-1zM1705 194h1v11h-1zM1706 194h1v11h-1zM1707 195h1v9h-1zM1708 195h1v9h-1zM1709 196h1v7h-1zM1710 196h1v7h-1zM1711 197h1v5h-1zM1712 198h1v3h-1zM1713 198h1v3h-1zM1714 199h1v1h-1zM1715 199h1v1h-1zM1716 198h1v3h-1zM1717 198h1v3h-1zM1718 197h1v5h-1zM1719 197h1v5h-1zM1720 196h1v7h-1zM1721 196h1v7h-1zM1722 195h1v9h-1zM1723 195h1v9h-1zM1724 195h1v9h-1zM1725 194h1v11h-1zM1726 194h1v11h-1zM1727 194h1v11h-1zM1728 194h1v11h-1zM1729 194h1v11h-1zM1730 194h1v11h-1zM1731 194h1v11h-1zM1732 194h1v11h-1zM1733 194h1v11h-1zM1734 194h1v11h-1zM1735 195h1v9h-1zM1736 195h1v9h-1zM1737 196h1v7h-1zM1738 196h1v7h-1zM1739 197h1v5h-1zM1740 197h1v5h-1zM1741 198h1v3h-1zM1742 198h1v3h-1zM1743 199h1v1h-1zM1744 199h1v1h-1zM1745 198h1v3h-1zM1746 198h1v3h-1zM1747 197h1v5h-1zM1748 197h1v5h-1zM1749 196h1v7h-1zM1750 196h1v7h-1zM1751 196h1v7h-1zM1752 195h1v9h-1zM1753 195h1v9h-1zM1754 195h1v9h-1zM1755 194h1v11h-1zM1756 194h1v11h-1zM1757 194h1v11h-1zM1758 194h1v11h-1zM1759 194h1v11h-1zM1760 194h1v11h-1zM1761 194h1v11h-1zM1762 194h1v11h-1zM1763 194h1v11h-1zM1764 195h1v9h-1zM1765 195h1v9h-1zM1766 195h1v9h-1zM1767 196h1v7h-1zM1768 196h1v7h-1zM1769 197h1v5h-1zM1770 197h1v5h-1zM1771 198h1v3h-1zM1772 198h1v3h-1zM1773 199h1v1h-1zM1774 199h1v1h-1zM1775 199h1v1h-1zM1776 198h1v3h-1zM1777 198h1v3h-1zM1778 197h1v5h-1zM1779 196h1v7h-1zM1780 196h1v7h-1zM1781 196h1v7h-1zM1782 195h1v9h-1zM1783 195h1v9h-1zM1784 195h1v9h-1zM1785 194h1v11h-1zM1786 194h1v11h-1zM1787 194h1v11h-1zM1788 194h1v11h-1zM1789 194h1v11h-1zM1790 194h1v11h-1zM1791 194h1v11h-1zM1792 194h1v11h-1zM1793 194h1v11h-1zM1794 194h1v11h-1zM1795 195h1v9h-1zM1796 195h1v9h-1zM1797 195h1v9h-1zM1798 196h1v7h-1zM1799 196h1v7h-1zM1800 197h1v5h-1zM1801 197h1v5h-1zM1802 198h1v3h-1zM1803 199h1v1h-1zM1804 199h1v1h-1zM1805 199h1v1h-1zM1806 198h1v3h-1zM1807 197h1v5h-1zM1808 197h1v5h-1zM1809 196h1v7h-1zM1810 195h1v9h-1zM1811 195h1v9h-1zM1812 194h1v11h-1zM1813 193h1v13h-1zM1814 193h1v13h-1zM1815 193h1v13h-1zM1816 192h1v15h-1zM1817 192h1v15h-1zM1818 192h1v15h-1zM1819 192h1v15h-1zM1820 192h1v15h-1zM1821 192h1v15h-1zM1822 192h1v15h-1zM1823 192h1v15h-1zM1824 193h1v13h-1zM1825 193h1v13h-1zM1826 194h1v11h-1zM1827 194h1v11h-1zM1828 195h1v9h-1zM1829 195h1v9h-1zM1830 196h1v7h-1zM1831 197h1v5h-1zM1832 198h1v3h-1zM1833 198h1v3h-1zM1834 199h1v1h-1zM1835 198h1v3h-1zM1836 197h1v5h-1zM1837 196h1v7h-1zM1838 196h1v7h-1zM1839 195h1v9h-1zM1840 194h1v11h-1zM1841 193h1v13h-1zM1842 193h1v13h-1zM1843 192h1v15h-1zM1844 192h1v15h-1zM1845 191h1v17h-1zM1846 191h1v17h-1zM1847 191h1v17h-1zM1848 191h1v17h-1zM1849 191h1v17h-1zM1850 191h1v17h-1zM1851 191h1v17h-1zM1852 191h1v17h-1zM1853 192h1v15h-1zM1854 192h1v15h-1zM1855 193h1v13h-1zM1856 193h1v13h-1zM1857 194h1v11h-1zM1858 195h1v9h-1zM1859 196h1v7h-1zM1860 196h1v7h-1zM1861 197h1v5h-1zM1862 198h1v3h-1zM1863 199h1v1h-1zM1864 198h1v3h-1zM1865 197h1v5h-1zM1866 196h1v7h-1zM1867 195h1v9h-1zM1868 194h1v11h-1zM1869 193h1v13h-1zM1870 192h1v15h-1zM1871 192h1v15h-1zM1872 191h1v17h-1zM1873 190h1v19h-1zM1874 190h1v19h-1zM1875 190h1v19h-1zM1876 190h1v19h-1zM1877 190h1v19h-1zM1878 190h1v19h-1zM1879 190h1v19h-1zM1880 190h1v19h-1zM1881 190h1v19h-1zM1882 191h1v17h-1zM1883 191h1v17h-1zM1884 192h1v15h-1zM1885 192h1v15h-1zM1886 193h1v13h-1zM1887 194h1v11h-1zM1888 195h1v9h-1zM1889 196h1v7h-1zM1890 197h1v5h-1zM1891 198h1v3h-1zM1892 199h1v1h-1zM1893 198h1v3h-1zM1894 197h1v5h-1zM1895 196h1v7h-1zM1896 195h1v9h-1zM1897 194h1v11h-1zM1898 193h1v13h-1zM1899 192h1v15h-1zM1900 191h1v17h-1zM1901 191h1v17h-1zM1902 190h1v19h-1zM1903 190h1v19h-1zM1904 190h1v19h-1zM1905 190h1v19h-1zM1906 190h1v19h-1zM1907 190h1v19h-1zM1908 190h1v19h-1zM1909 190h1v19h-1zM1910 190h1v19h-1zM1911 191h1v17h-1zM1912 192h1v15h-1zM1913 192h1v15h-1zM1914 193h1v13h-1zM1915 194h1v11h-1zM1916 195h1v9h-1zM1917 196h1v7h-1zM1918 197h1v5h-1zM1919 198h1v3h-1z"/></svg></body></html>
